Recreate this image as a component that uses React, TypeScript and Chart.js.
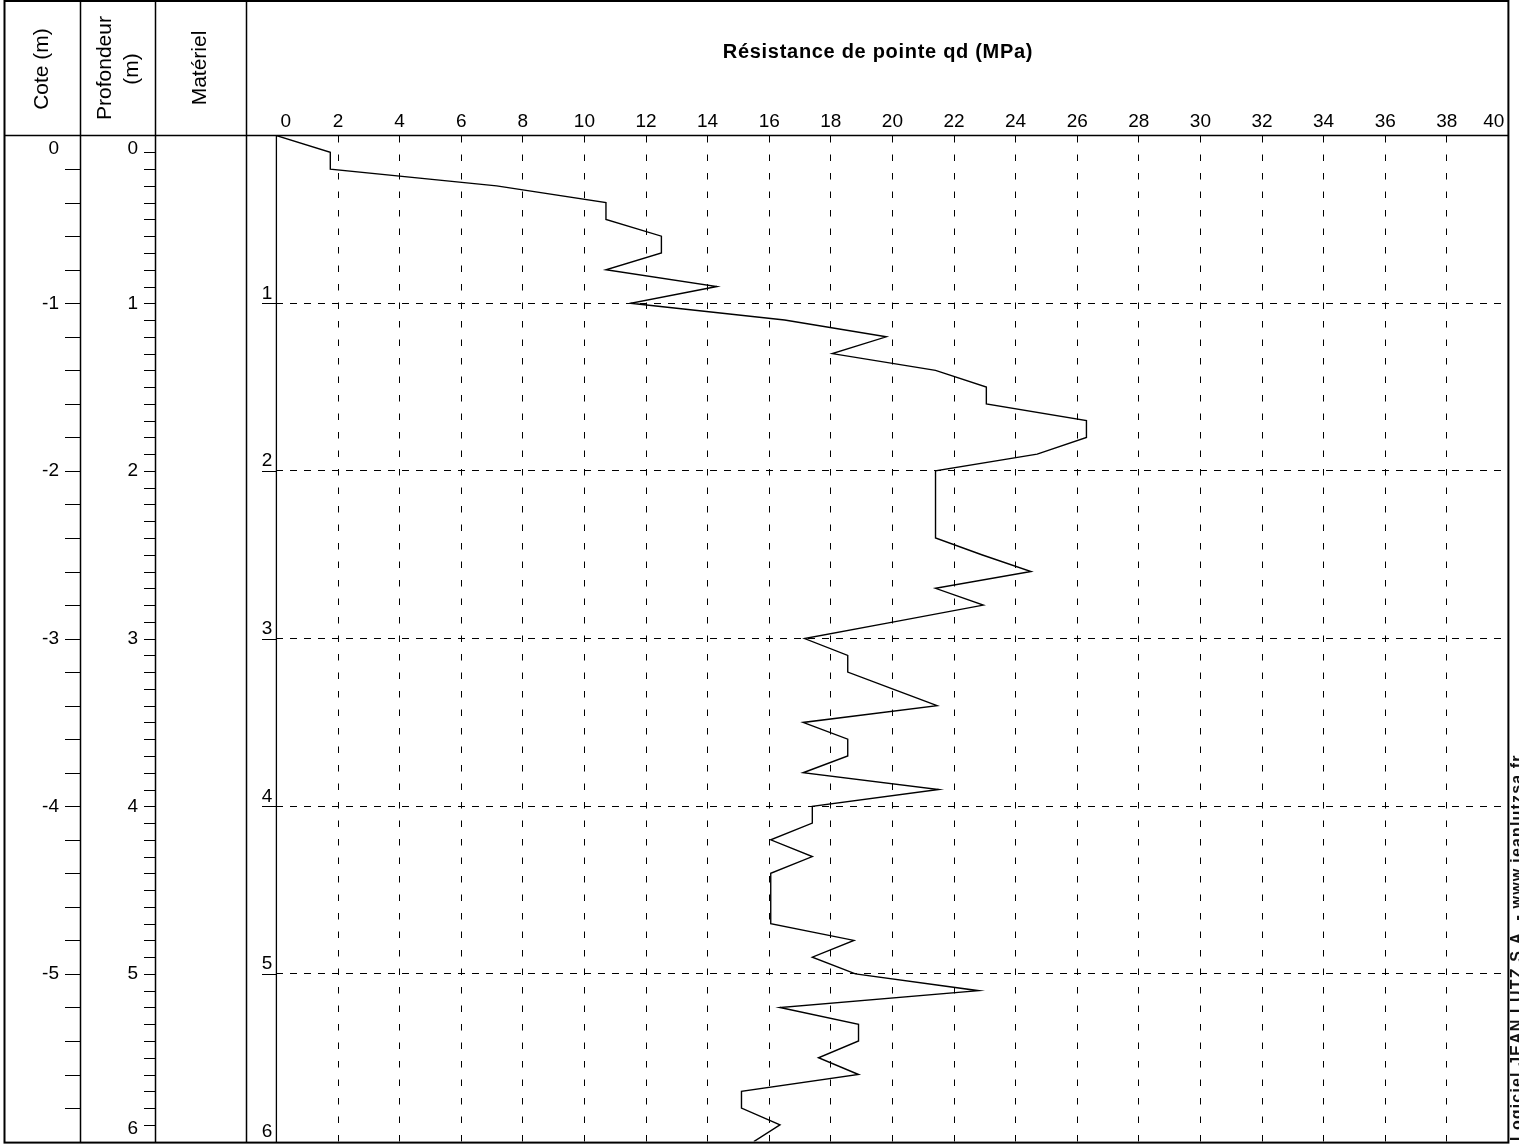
import React, { useEffect, useRef } from "react";
import { Chart, registerables } from "chart.js";

Chart.register(...registerables);

// Depth (m) and cone resistance qd (MPa)
const depths = [
  0, 0.1, 0.2, 0.3, 0.4, 0.5, 0.6, 0.7, 0.8, 0.9,
  1.0, 1.1, 1.2, 1.3, 1.4, 1.5, 1.6, 1.7, 1.8, 1.9,
  2.0, 2.1, 2.2, 2.3, 2.4, 2.5, 2.6, 2.7, 2.8, 2.9,
  3.0, 3.1, 3.2, 3.3, 3.4, 3.5, 3.6, 3.7, 3.8, 3.9,
  4.0, 4.1, 4.2, 4.3, 4.4, 4.5, 4.6, 4.7, 4.8, 4.9,
  5.0, 5.1, 5.2, 5.3, 5.4, 5.5, 5.6, 5.7, 5.8, 5.9, 6.0,
];
const qd = [
  0, 1.75, 1.75, 7.15, 10.7, 10.7, 12.5, 12.5, 10.7, 14.3,
  11.5, 16.5, 19.8, 18.05, 21.4, 23.05, 23.05, 26.3, 26.3, 24.7,
  21.4, 21.4, 21.4, 21.4, 21.4, 22.9, 24.5, 21.4, 22.95, 20.05,
  17.15, 18.55, 18.55, 20.0, 21.45, 17.1, 18.55, 18.55, 17.1, 21.5,
  17.4, 17.4, 16.05, 17.4, 16.05, 16.05, 16.05, 16.05, 18.75, 17.4,
  18.8, 22.8, 16.35, 18.9, 18.9, 17.6, 18.9, 15.1, 15.1, 16.35, 15.5,
];

const xTicks = [0, 2, 4, 6, 8, 10, 12, 14, 16, 18, 20, 22, 24, 26, 28, 30, 32, 34, 36, 38, 40];
const depthLabels = [0, 1, 2, 3, 4, 5, 6];
const coteLabels = ["0", "-1", "-2", "-3", "-4", "-5"];
const title = "Résistance de pointe qd (MPa)";
const headerCote = "Cote (m)";
const headerProf1 = "Profondeur";
const headerProf2 = "(m)";
const headerMat = "Matériel";
const watermark = "Logiciel JEAN LUTZ S.A. - www.jeanlutzsa.fr";

const FONT = "'Liberation Sans', Arial, sans-serif";

const framePlugin = {
  id: "frame",
  afterDraw(chart: any) {
    const ctx: CanvasRenderingContext2D = chart.ctx;
    const xs = chart.scales.x;
    const ys = chart.scales.y;
    const top = ys.getPixelForValue(0);
    const left = xs.getPixelForValue(0);
    const right = xs.getPixelForValue(40);
    ctx.save();
    ctx.strokeStyle = "#000";
    ctx.fillStyle = "#000";

    const line = (x1: number, y1: number, x2: number, y2: number, w: number) => {
      ctx.lineWidth = w;
      ctx.beginPath();
      ctx.moveTo(x1, y1);
      ctx.lineTo(x2, y2);
      ctx.stroke();
    };

    // column separators
    line(80.5, 1, 80.5, 1143, 1.5);
    line(155.5, 1, 155.5, 1143, 1.5);
    line(246.5, 1, 246.5, 1143, 1.5);
    // header bottom line
    line(4, top, right, top, 1.5);
    // plot left axis
    line(left, top, left, 1143, 1.3);

    // Cote ticks every 0.2 m
    for (let i = 1; i < 30; i++) {
      const y = Math.round(ys.getPixelForValue(i * 0.2)) + 0.5;
      line(65, y, 80.5, y, 1);
    }
    // Profondeur ticks every 0.1 m
    for (let i = 1; i < 60; i++) {
      const y = Math.round(ys.getPixelForValue(i * 0.1)) + 0.5;
      line(144, y, 155.5, y, 1);
    }
    // plot integer ticks
    for (let d = 1; d <= 5; d++) {
      const y = Math.round(ys.getPixelForValue(d)) + 0.5;
      line(262, y, left, y, 1);
    }

    // labels
    ctx.font = `19px ${FONT}`;
    ctx.textBaseline = "middle";
    depthLabels.forEach((d, i) => {
      let y = ys.getPixelForValue(d);
      y = Math.min(Math.max(y, 149), 1129);
      ctx.textAlign = "right";
      if (i < coteLabels.length) ctx.fillText(coteLabels[i], 59, y);
      ctx.fillText(String(d), 138, y);
    });
    ctx.textBaseline = "alphabetic";
    ctx.textAlign = "center";
    depthLabels.forEach((d) => {
      if (d === 0) return;
      const y = ys.getPixelForValue(d);
      ctx.fillText(String(d), 267, Math.min(y, 1141) - 4.5);
    });

    // x tick labels
    ctx.textBaseline = "middle";
    xTicks.forEach((v) => {
      const x = xs.getPixelForValue(v);
      if (v === 0) {
        ctx.textAlign = "left";
        ctx.fillText(String(v), x + 4, 122);
      } else if (v === 40) {
        ctx.textAlign = "right";
        ctx.fillText(String(v), x - 4, 122);
      } else {
        ctx.textAlign = "center";
        ctx.fillText(String(v), x, 122);
      }
    });

    // title
    ctx.font = `bold 20px ${FONT}`;
    (ctx as any).letterSpacing = "0.7px";
    ctx.textAlign = "center";
    ctx.textBaseline = "alphabetic";
    ctx.fillText(title, 878, 58);
    (ctx as any).letterSpacing = "0px";

    // rotated headers
    const rot = (text: string, cx: number, cy: number) => {
      ctx.save();
      ctx.translate(cx, cy);
      ctx.rotate(-Math.PI / 2);
      ctx.textAlign = "center";
      ctx.textBaseline = "middle";
      ctx.fillText(text, 0, 0);
      ctx.restore();
    };
    ctx.font = `21px ${FONT}`;
    rot(headerCote, 42, 69);
    rot(headerProf1, 105, 68);
    rot(headerProf2, 132, 69);
    rot(headerMat, 200, 68);

    // watermark
    ctx.save();
    ctx.translate(1521.5, 1141);
    ctx.rotate(-Math.PI / 2);
    ctx.font = `bold 16px ${FONT}`;
    (ctx as any).letterSpacing = "1.15px";
    ctx.fillStyle = "#111";
    ctx.textAlign = "left";
    ctx.textBaseline = "alphabetic";
    ctx.fillText(watermark, 0, 0);
    ctx.restore();

    // outer border
    ctx.lineWidth = 2;
    ctx.strokeRect(4.5, 1, right - 4.5, 1141.6);
    ctx.restore();
  },
};

export default function App() {
  const ref = useRef<HTMLCanvasElement | null>(null);
  useEffect(() => {
    document.body.style.margin = "0";
    document.body.style.overflow = "hidden";
    const canvas = ref.current!;
    const data = depths.map((d, i) => ({ x: qd[i], y: d }));
    const chart = new Chart(canvas, {
      type: "scatter",
      data: {
        datasets: [
          {
            data,
            showLine: true,
            borderColor: "#000",
            borderWidth: 1.4,
            pointRadius: 0,
            fill: false,
            tension: 0,
          },
        ],
      },
      options: {
        animation: false,
        responsive: false,
        devicePixelRatio: 1,
        layout: { padding: { left: 276.4, right: 10.6, top: 135.6, bottom: 2.4 } },
        plugins: { legend: { display: false }, tooltip: { enabled: false } },
        scales: {
          x: {
            type: "linear",
            position: "top",
            min: 0,
            max: 40,
            ticks: { display: false, stepSize: 2 },
            grid: {
              drawTicks: false,
              lineWidth: 1,
              color: (c: any) => (c.tick && (c.tick.value === 0 || c.tick.value === 40) ? "rgba(0,0,0,0)" : "#000"),
            },
            border: { display: false, dash: [6.5, 12] },
          },
          y: {
            type: "linear",
            reverse: true,
            min: 0,
            max: 6,
            ticks: { display: false, stepSize: 1 },
            grid: {
              drawTicks: false,
              lineWidth: 1,
              color: (c: any) => (c.tick && (c.tick.value === 0 || c.tick.value === 6) ? "rgba(0,0,0,0)" : "#000"),
            },
            border: { display: false, dash: [7, 7] },
          },
        },
      },
      plugins: [framePlugin],
    } as any);
    return () => chart.destroy();
  }, []);
  return (
    <div style={{ width: 1519, height: 1144, background: "#fff" }}>
      <canvas ref={ref} width={1519} height={1144} style={{ display: "block" }} />
    </div>
  );
}
